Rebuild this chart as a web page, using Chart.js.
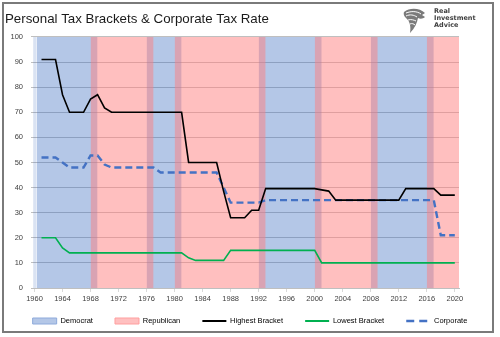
<!DOCTYPE html>
<html>
<head>
<meta charset="utf-8">
<script src="https://cdn.jsdelivr.net/npm/chart.js@4.4.1/dist/chart.umd.min.js"></script>
<style>
  html, body { margin: 0; padding: 0; background: #fff; }
  #wrap { position: relative; width: 500px; height: 337px; }
  #frame {
    position: absolute; left: 2px; top: 2px; width: 492px; height: 331px;
    box-sizing: border-box; border: 2px solid #7a7a7a; pointer-events: none;
  }
  #logo { position: absolute; left: 402px; top: 7px; width: 90px; height: 27px; }
  #logo .line {
    position: absolute; left: 32px;
    font: bold 6.5px/7px "DejaVu Sans", sans-serif; color: #404040; white-space: nowrap;
  }
</style>
</head>
<body>
<div id="wrap">
  <canvas id="taxChart" width="500" height="337"></canvas>
  <div id="logo">
    <svg width="26" height="27" viewBox="0 0 26 27">
      <path d="M2,5 C8,0 18,1 23,6 L20,8 L23,10 C21,12 18,12 16,11 C15,16 13,21 8,26 C9,20 8,15 5,12 C3,10 1,8 2,5 Z" fill="#7a7a7a"/>
      <path d="M4,6 C9,4 15,4 19,7" stroke="#fff" stroke-width="1" fill="none"/>
      <path d="M4,9 C8,7 12,8 15,10" stroke="#fff" stroke-width="1" fill="none"/>
      <path d="M6,13 C9,12 12,13 14,14" stroke="#fff" stroke-width="1" fill="none"/>
      <path d="M8,17 C10,16 12,17 13,18" stroke="#fff" stroke-width="1" fill="none"/>
    </svg>
    <div class="line" style="top:1px">Real</div>
    <div class="line" style="top:8px">Investment</div>
    <div class="line" style="top:15px">Advice</div>
  </div>
  <div id="frame"></div>
</div>
<script>
/* ================= DATA ================= */
const years = [
  1961, 1962, 1963, 1964, 1965, 1966, 1967, 1968, 1969, 1970,
  1971, 1972, 1973, 1974, 1975, 1976, 1977, 1978, 1979, 1980,
  1981, 1982, 1983, 1984, 1985, 1986, 1987, 1988, 1989, 1990,
  1991, 1992, 1993, 1994, 1995, 1996, 1997, 1998, 1999, 2000,
  2001, 2002, 2003, 2004, 2005, 2006, 2007, 2008, 2009, 2010,
  2011, 2012, 2013, 2014, 2015, 2016, 2017, 2018, 2019, 2020
];

const highestBracket = [
  91, 91, 91, 77, 70, 70, 70, 75.25, 77, 71.75,
  70, 70, 70, 70, 70, 70, 70, 70, 70, 70,
  70, 50, 50, 50, 50, 50, 38.5, 28, 28, 28,
  31, 31, 39.6, 39.6, 39.6, 39.6, 39.6, 39.6, 39.6, 39.6,
  39.1, 38.6, 35, 35, 35, 35, 35, 35, 35, 35,
  35, 35, 39.6, 39.6, 39.6, 39.6, 39.6, 37, 37, 37
];

const lowestBracket = [
  20, 20, 20, 16, 14, 14, 14, 14, 14, 14,
  14, 14, 14, 14, 14, 14, 14, 14, 14, 14,
  14, 12, 11, 11, 11, 11, 11, 15, 15, 15,
  15, 15, 15, 15, 15, 15, 15, 15, 15, 15,
  10, 10, 10, 10, 10, 10, 10, 10, 10, 10,
  10, 10, 10, 10, 10, 10, 10, 10, 10, 10
];

const corporateRate = [
  52, 52, 52, 50, 48, 48, 48, 52.8, 52.8, 49.2,
  48, 48, 48, 48, 48, 48, 48, 46, 46, 46,
  46, 46, 46, 46, 46, 46, 40, 34, 34, 34,
  34, 34, 35, 35, 35, 35, 35, 35, 35, 35,
  35, 35, 35, 35, 35, 35, 35, 35, 35, 35,
  35, 35, 35, 35, 35, 35, 35, 21, 21, 21
];

// shaded party bands: [from, to] in years
const demTerms = [[1960.3, 1969], [1976, 1981], [1992, 2001], [2008, 2017]];
const repTerms = [[1968, 1977], [1980, 1993], [2000, 2009], [2016, 2020.6]];
const demEdge  = [1959.8, 1960.3];

const xTicks = [1960, 1964, 1968, 1972, 1976, 1980, 1984, 1988, 1992, 1996, 2000, 2004, 2008, 2012, 2016, 2020];

/* ================= STYLE ================= */
const FONT = '"Liberation Sans", Arial, sans-serif';
const TICK_COLOR = '#404040';

const DEM_FILL = 'rgba(68, 114, 196, 0.4)';
const REP_FILL = 'rgba(255, 128, 128, 0.5)';

function toPoints(xs, ys) {
  return xs.map((x, i) => ({ x: x, y: ys[i] }));
}

function bandSet(term, color, order) {
  return {
    data: [{ x: term[0], y: 100 }, { x: term[1], y: 100 }],
    fill: 'origin',
    backgroundColor: color,
    borderWidth: 0,
    pointRadius: 0,
    order: order
  };
}

const datasets = [
  {
    label: 'Highest Bracket',
    data: toPoints(years, highestBracket),
    borderColor: '#000000',
    borderWidth: 1.6,
    pointRadius: 0,
    order: 0
  },
  {
    label: 'Lowest Bracket',
    data: toPoints(years, lowestBracket),
    borderColor: '#00b050',
    borderWidth: 1.6,
    pointRadius: 0,
    order: 0
  },
  {
    label: 'Corporate',
    data: toPoints(years, corporateRate),
    borderColor: '#4472c4',
    borderWidth: 2.4,
    borderDash: [7, 4],
    pointRadius: 0,
    order: 0
  }
];

repTerms.forEach(t => datasets.push(bandSet(t, REP_FILL, 1)));
demTerms.forEach(t => datasets.push(bandSet(t, DEM_FILL, 2)));
datasets.push(bandSet(demEdge, 'rgba(68, 114, 196, 0.2)', 2));

// trailing spaces widen the gap between legend entries
const GAP = '    ';
const legendItems = [
  { text: 'Democrat' + GAP, fillStyle: '#b4c7e7', strokeStyle: '#8eaadb', lineWidth: 1, pointStyle: 'rect' },
  { text: 'Republican' + GAP, fillStyle: '#ffc0c0', strokeStyle: '#ff9f9f', lineWidth: 1, pointStyle: 'rect' },
  { text: 'Highest Bracket' + GAP, fillStyle: '#000000', strokeStyle: '#000000', lineWidth: 2, pointStyle: 'line' },
  { text: 'Lowest Bracket' + GAP, fillStyle: '#00b050', strokeStyle: '#00b050', lineWidth: 2, pointStyle: 'line' },
  { text: 'Corporate', fillStyle: '#4472c4', strokeStyle: '#4472c4', lineWidth: 2.5, lineDash: [8, 5], pointStyle: 'line' }
];

/* ================= CHART ================= */
new Chart(document.getElementById('taxChart'), {
  type: 'line',
  data: { datasets: datasets },
  options: {
    responsive: false,
    animation: false,
    layout: { padding: { left: 5, right: 5, top: 0, bottom: 2.25 } },
    plugins: {
      title: {
        display: true,
        text: 'Personal Tax Brackets & Corporate Tax Rate',
        align: 'start',
        color: '#1a1a1a',
        font: { family: FONT, size: 13.3, weight: 'normal' },
        padding: { top: 11.4, bottom: 9.6 }
      },
      legend: {
        position: 'bottom',
        labels: {
          usePointStyle: true,
          pointStyleWidth: 24,
          boxHeight: 6,
          padding: 13.75,
          color: TICK_COLOR,
          font: { family: FONT, size: 7.5 },
          generateLabels: () => legendItems.map((it, i) => Object.assign({ hidden: false, datasetIndex: i }, it))
        }
      },
      tooltip: { enabled: false }
    },
    scales: {
      x: {
        type: 'linear',
        min: 1959.5,
        max: 2020.6,
        afterBuildTicks: s => { s.ticks = xTicks.map(v => ({ value: v })); },
        afterFit: s => { s.height = 15.5; },
        ticks: {
          autoSkip: false,
          maxRotation: 0,
          padding: 2.5,
          color: TICK_COLOR,
          font: { family: FONT, size: 7.5 },
          callback: v => String(v)
        },
        grid: { drawOnChartArea: false, color: '#d9d9d9', tickLength: 4 },
        border: { color: '#bfbfbf' }
      },
      y: {
        min: 0,
        max: 100,
        afterFit: s => { s.width = 26; },
        ticks: {
          stepSize: 10,
          padding: 8,
          color: TICK_COLOR,
          font: { family: FONT, size: 7.5 }
        },
        grid: { color: '#bfbfbf', drawTicks: false },
        border: { display: false }
      },
      yRight: {
        position: 'right',
        min: 0,
        max: 1,
        afterFit: s => { s.width = 36; },
        ticks: { display: false },
        grid: { display: false },
        border: { display: false }
      }
    }
  }
});
</script>
</body>
</html>
